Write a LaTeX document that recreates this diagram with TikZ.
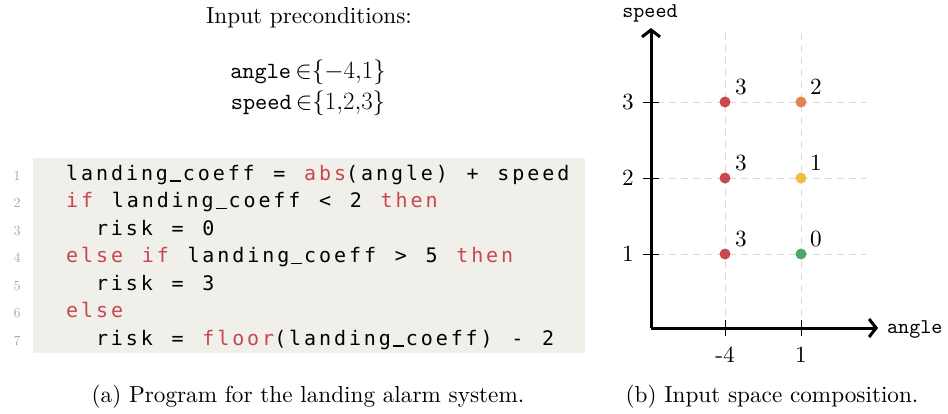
\documentclass[tikz,border=0pt]{standalone}
\usepackage{fontspec}
\setmainfont{lmroman10-regular.otf}
\setmonofont{lmmono10-regular.otf}
\newfontfamily\codefont{DejaVu Sans Mono}[LetterSpace=14.6,WordSpace={1.25,0,0}]
\usetikzlibrary{arrows.meta}
\definecolor{codebg}{HTML}{F0EFE9}
\definecolor{kwred}{HTML}{C8474F}
\definecolor{dred}{HTML}{C94A4C}
\definecolor{dorange}{HTML}{E0854D}
\definecolor{dyellow}{HTML}{F0C03C}
\definecolor{dgreen}{HTML}{4FA665}
\newcommand{\kw}[1]{\textcolor{kwred}{#1}}
\newcommand{\us}{\hbox to 14.9pt{\hss\rule[-1.8pt]{11pt}{1.7pt}\hss}}
\tikzset{
  txt/.style={font=\fontsize{23.2}{28}\selectfont, inner sep=0pt},
  codeline/.style={font=\codefont\fontsize{20}{28}\selectfont, anchor=base west, inner sep=0pt},
  lineno/.style={font=\fontsize{14}{16}\selectfont, text=black!35, anchor=base, inner sep=0pt},
  grid/.style={draw=black!15, line width=1pt, dash pattern=on 7pt off 5pt},
  axis/.style={line width=3pt, -{Straight Barb[length=7pt,width=18pt,line width=3pt]}},
  tick/.style={line width=1pt},
  dot/.style={circle, fill=#1, minimum size=11pt, inner sep=0pt},
  val/.style={font=\fontsize{23.2}{28}\selectfont, inner sep=0pt},
  axlab/.style={font=\ttfamily\fontsize{21}{26}\selectfont, inner sep=0pt}
}
\begin{document}
\begin{tikzpicture}[x=1pt,y=-1pt]
\useasboundingbox (0,0) rectangle (948,413);
% left part
\node[txt] (title) at (309,18) {Input preconditions:};
\node[txt] (pre1) at (308,72) {\texttt{angle}$\,{\in}\{-4{,}1\}$};
\node[txt] (pre2) at (308,103) {\texttt{speed}$\,{\in}\{1{,}2{,}3\}$};
\fill[codebg] (33,158) rectangle (585,353);
\foreach \n/\y in {1/180,2/207.5,3/235,4/262.5,5/290,6/317.5,7/345}{
  \node[lineno] (ln\n) at (17,\y) {\n};
}
\node[codeline] (c1) at (66,180) {landing\us coeff = \kw{abs}(angle) + speed};
\node[codeline] (c2) at (66,207.5) {\kw{if} landing\us coeff < 2 \kw{then}};
\node[codeline] (c3) at (95.8,235) {risk = 0};
\node[codeline] (c4) at (66,262.5) {\kw{else if} landing\us coeff > 5 \kw{then}};
\node[codeline] (c5) at (95.8,290) {risk = 3};
\node[codeline] (c6) at (66,317.5) {\kw{else}};
\node[codeline] (c7) at (95.8,345) {risk = \kw{floor}(landing\us coeff) - 2};
\node[txt] (capa) at (308,397) {(a) Program for the landing alarm system.};
% right part
\coordinate (o) at (651,328);
\coordinate (ytop) at (651,28);
\coordinate (xend) at (878,328);
\foreach \y in {102,178,254}{
  \draw[grid] (657,\y) -- (866,\y);
}
\foreach \x in {725,801}{
  \draw[grid] (\x,33) -- (\x,322);
}
\draw[axis] (o) -- (ytop);
\draw[axis] (o) -- (xend);
\foreach \y/\l in {102/3,178/2,254/1}{
  \draw[tick] (643,\y) -- (659,\y);
  \node[val] (yl\l) at (628,\y) {\l};
}
\foreach \x/\l/\nm in {725/-4/a,801/1/b}{
  \draw[tick] (\x,320) -- (\x,336);
  \node[val] (xl\nm) at (\x,355) {\l};
}
\node[axlab, anchor=base] (sp) at (650,17) {speed};
\node[axlab, anchor=west] (an) at (887,329) {angle};
\node[dot=dred] (d1) at (725,102) {};
\node[dot=dred] (d2) at (725,178) {};
\node[dot=dred] (d3) at (725,254) {};
\node[dot=dorange] (d4) at (801,102) {};
\node[dot=dyellow] (d5) at (801,178) {};
\node[dot=dgreen] (d6) at (801,254) {};
\node[val] (v1) at (741,87) {3};
\node[val] (v2) at (741,163) {3};
\node[val] (v3) at (741,239) {3};
\node[val] (v4) at (816,87) {2};
\node[val] (v5) at (816,163) {1};
\node[val] (v6) at (816,239) {0};
\node[txt] (capb) at (772,397) {(b) Input space composition.};
\end{tikzpicture}
\end{document}
